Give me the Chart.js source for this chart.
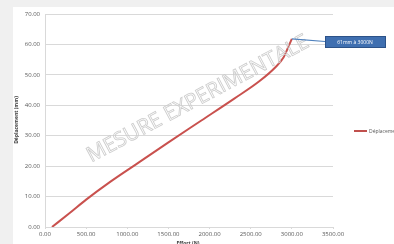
<!DOCTYPE html>
<html>
<head>
<meta charset="utf-8">
<script src="https://cdn.jsdelivr.net/npm/chart.js@4/dist/chart.umd.min.js"></script>
<style>
html,body{margin:0;padding:0;background:#f0f0f0;}
#wrap{position:relative;width:394px;height:244px;}
canvas{display:block;}
</style>
</head>
<body>
<div id="wrap"><canvas id="c" width="394" height="244"></canvas></div>
<script>
// Effort (N) vs Déplacement (mm)
const effort = [85, 300, 500, 800, 1150, 1500, 1900, 2300, 2600, 2800, 2900, 2970, 3000];
const deplacement = [0, 4.6, 9.0, 15.0, 21.4, 27.8, 35.0, 42.2, 47.8, 52.5, 55.8, 60.0, 61.8];
const seriesName = "Déplacement";
const xTitle = "Effort (N)";
const yTitle = "Déplacement (mm)";
const watermark = "MESURE EXPERIMENTALE";
const calloutText = "61mm à 3000N";

const points = effort.map((x, i) => ({x: x, y: deplacement[i]}));
const FONT = "Open Sans, Liberation Sans, sans-serif";

const deco = {
  id: 'deco',
  beforeDraw(chart) {
    const ctx = chart.ctx;
    ctx.save();
    ctx.fillStyle = '#f0f0f0';
    ctx.fillRect(0, 0, chart.width, chart.height);
    ctx.fillStyle = '#ffffff';
    ctx.fillRect(13, 7, chart.width - 13, chart.height - 7);
    ctx.restore();
  },
  afterDraw(chart) {
    const ctx = chart.ctx;
    const xs = chart.scales.x, ys = chart.scales.y;
    ctx.save();
    // watermark
    ctx.translate(198, 99);
    ctx.rotate(-28 * Math.PI / 180);
    ctx.font = "21px " + FONT;
    ctx.textAlign = 'center';
    ctx.textBaseline = 'middle';
    ctx.strokeStyle = '#cccccc';
    ctx.lineWidth = 0.8;
    ctx.strokeText(watermark, 0, 0);
    ctx.restore();

    // callout
    const last = points[points.length - 1];
    const px = xs.getPixelForValue(last.x), py = ys.getPixelForValue(last.y);
    ctx.save();
    ctx.strokeStyle = '#4f81bd';
    ctx.lineWidth = 1.2;
    ctx.beginPath();
    ctx.moveTo(px, py);
    ctx.lineTo(325, 41.5);
    ctx.stroke();
    ctx.fillStyle = '#3f6fb0';
    ctx.strokeStyle = '#2c5288';
    ctx.lineWidth = 1;
    ctx.fillRect(325, 36.5, 60, 11);
    ctx.strokeRect(325.5, 36.5, 60, 11);
    ctx.fillStyle = '#ffffff';
    ctx.font = "5px " + FONT;
    ctx.textAlign = 'center';
    ctx.textBaseline = 'middle';
    ctx.fillText(calloutText, 355, 42.3);
    ctx.restore();

    // legend
    ctx.save();
    ctx.strokeStyle = '#c0504d';
    ctx.lineWidth = 2;
    ctx.beginPath();
    ctx.moveTo(354, 131);
    ctx.lineTo(367, 131);
    ctx.stroke();
    ctx.fillStyle = '#595959';
    ctx.font = "5px " + FONT;
    ctx.textAlign = 'left';
    ctx.textBaseline = 'middle';
    ctx.fillText(seriesName, 369, 131.5);
    ctx.restore();

    // axis titles
    ctx.save();
    ctx.fillStyle = '#404040';
    ctx.font = "bold 5px " + FONT;
    ctx.textAlign = 'center';
    ctx.textBaseline = 'middle';
    ctx.fillText(xTitle, 188, 244);
    ctx.translate(17, 120);
    ctx.rotate(-Math.PI / 2);
    ctx.fillText(yTitle, 0, 0);
    ctx.restore();
  }
};

new Chart(document.getElementById('c'), {
  type: 'scatter',
  data: {
    datasets: [{
      label: seriesName,
      data: points,
      showLine: true,
      borderColor: '#c9514e',
      borderWidth: 2,
      pointRadius: 0,
      cubicInterpolationMode: 'monotone',
      fill: false
    }]
  },
  options: {
    responsive: false,
    animation: false,
    devicePixelRatio: 1,
    layout: {padding: {top: 14, right: 61, left: 0, bottom: 0}},
    plugins: {legend: {display: false}, tooltip: {enabled: false}},
    scales: {
      x: {
        type: 'linear', min: 0, max: 3500,
        ticks: {stepSize: 500, callback: v => v.toFixed(2), color: '#595959', font: {size: 6, family: FONT}, padding: 2, maxRotation: 0},
        grid: {display: true, drawOnChartArea: false, drawTicks: true, tickLength: 2, color: '#d9d9d9'},
        border: {color: '#d9d9d9'},
        afterFit: s => { s.height = 17; }
      },
      y: {
        type: 'linear', min: 0, max: 70,
        ticks: {stepSize: 10, callback: v => v.toFixed(2), color: '#595959', font: {size: 6, family: FONT}, padding: 5},
        grid: {color: '#d9d9d9', drawTicks: false},
        border: {color: '#d9d9d9'},
        afterFit: s => { s.width = 45; }
      }
    }
  },
  plugins: [deco]
});
</script>
</body>
</html>
